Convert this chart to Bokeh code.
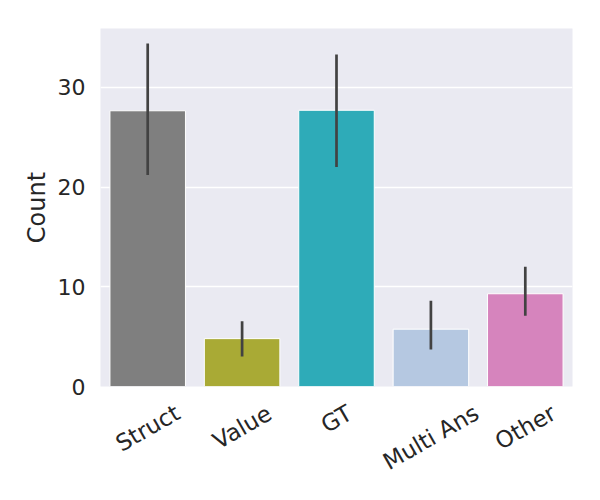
import numpy as np
from bokeh.plotting import figure
from bokeh.layouts import column
from bokeh.models import ColumnDataSource, Range1d, FixedTicker
from bokeh.core.properties import value
from bokeh.embed import file_html
from bokeh.resources import INLINE

categories = ["Struct", "Value", "GT", "Multi Ans", "Other"]
counts = [27.65, 4.8, 27.7, 5.75, 9.3]
ci_low = [21.2, 3.0, 22.0, 3.7, 7.1]
ci_high = [34.4, 6.55, 33.3, 8.6, 12.0]
colors = ["#7f7f7f", "#a9aa35", "#2eabb8", "#b5c8e1", "#d684bd"]
y_ticks = [0, 10, 20, 30]

TICK_FS = 22
XTICK_FS = 23
LABEL_FS = 24
W, LEFT, RIGHT, TOP, FRAME_H, GAP, BOTTOM = 592, 100, 20, 28, 358, 14, 92

# approximate DejaVu Sans advance widths (em) to centre rotated labels like matplotlib
_W = {"S": .635, "t": .392, "r": .411, "u": .634, "c": .55, "V": .684, "a": .613,
      "l": .278, "e": .615, "G": .775, "T": .611, "M": .863, "i": .278, " ": .318,
      "A": .684, "n": .634, "s": .521, "O": .787, "h": .634}
ang = np.pi / 6
def _center_depth(s):
    w = sum(_W.get(ch, .6) for ch in s) * XTICK_FS
    h = 0.73 * XTICK_FS
    return 17 - GAP + (w * np.sin(ang) + h * np.cos(ang)) / 2

src = ColumnDataSource(dict(cat=categories, count=counts, lo=ci_low, hi=ci_high, color=colors))

p = figure(x_range=categories, y_range=Range1d(0, 35.9), width=W, height=TOP + FRAME_H + GAP,
           output_backend="svg", toolbar_location=None,
           min_border_left=LEFT, min_border_right=RIGHT, min_border_top=TOP, min_border_bottom=GAP)
p.x_range.range_padding = 0

p.background_fill_color = "#eaeaf2"
p.border_fill_color = "white"
p.outline_line_color = None

p.vbar(x="cat", top="count", width=0.8, source=src, fill_color="color",
       line_color="white", line_width=1)
p.segment(x0="cat", y0="lo", x1="cat", y1="hi", source=src,
          line_color="#424242", line_width=2.7)

p.xgrid.grid_line_color = None
p.ygrid.grid_line_color = "white"
p.ygrid.grid_line_width = 1.3
p.yaxis.ticker = FixedTicker(ticks=y_ticks)
p.xaxis.visible = False

ax = p.yaxis[0]
ax.axis_line_color = None
ax.major_tick_line_color = None
ax.minor_tick_line_color = None
ax.major_tick_out = 0
ax.major_tick_in = 0
ax.major_label_text_font = "DejaVu Sans"
ax.major_label_text_font_size = f"{TICK_FS}px"
ax.major_label_text_color = "#262626"
ax.axis_label_text_font = "DejaVu Sans"
ax.axis_label_text_font_size = f"{LABEL_FS}px"
ax.axis_label_text_font_style = "normal"
ax.axis_label_text_color = "#262626"
ax.axis_label = "Count"
ax.major_label_standoff = 15
ax.axis_label_standoff = 4

# strip below the frame holding the rotated category labels (matplotlib-style centring)
lab_src = ColumnDataSource(dict(cat=categories, depth=[_center_depth(c) for c in categories]))
p2 = figure(x_range=p.x_range, y_range=Range1d(BOTTOM, 0), width=W, height=BOTTOM,
            output_backend="svg", toolbar_location=None,
            min_border_left=LEFT, min_border_right=RIGHT, min_border_top=0, min_border_bottom=0)
p2.axis.visible = False
p2.grid.visible = False
p2.outline_line_color = None
p2.background_fill_color = "white"
p2.border_fill_color = "white"
p2.text(x="cat", y="depth", text="cat", source=lab_src, angle=ang,
        text_align="center", text_baseline="middle",
        text_font=value("DejaVu Sans"), text_font_size=f"{XTICK_FS}px",
        text_color="#262626")

layout = column(p, p2, spacing=0)
open("out.html", "w").write(file_html(layout, INLINE))
